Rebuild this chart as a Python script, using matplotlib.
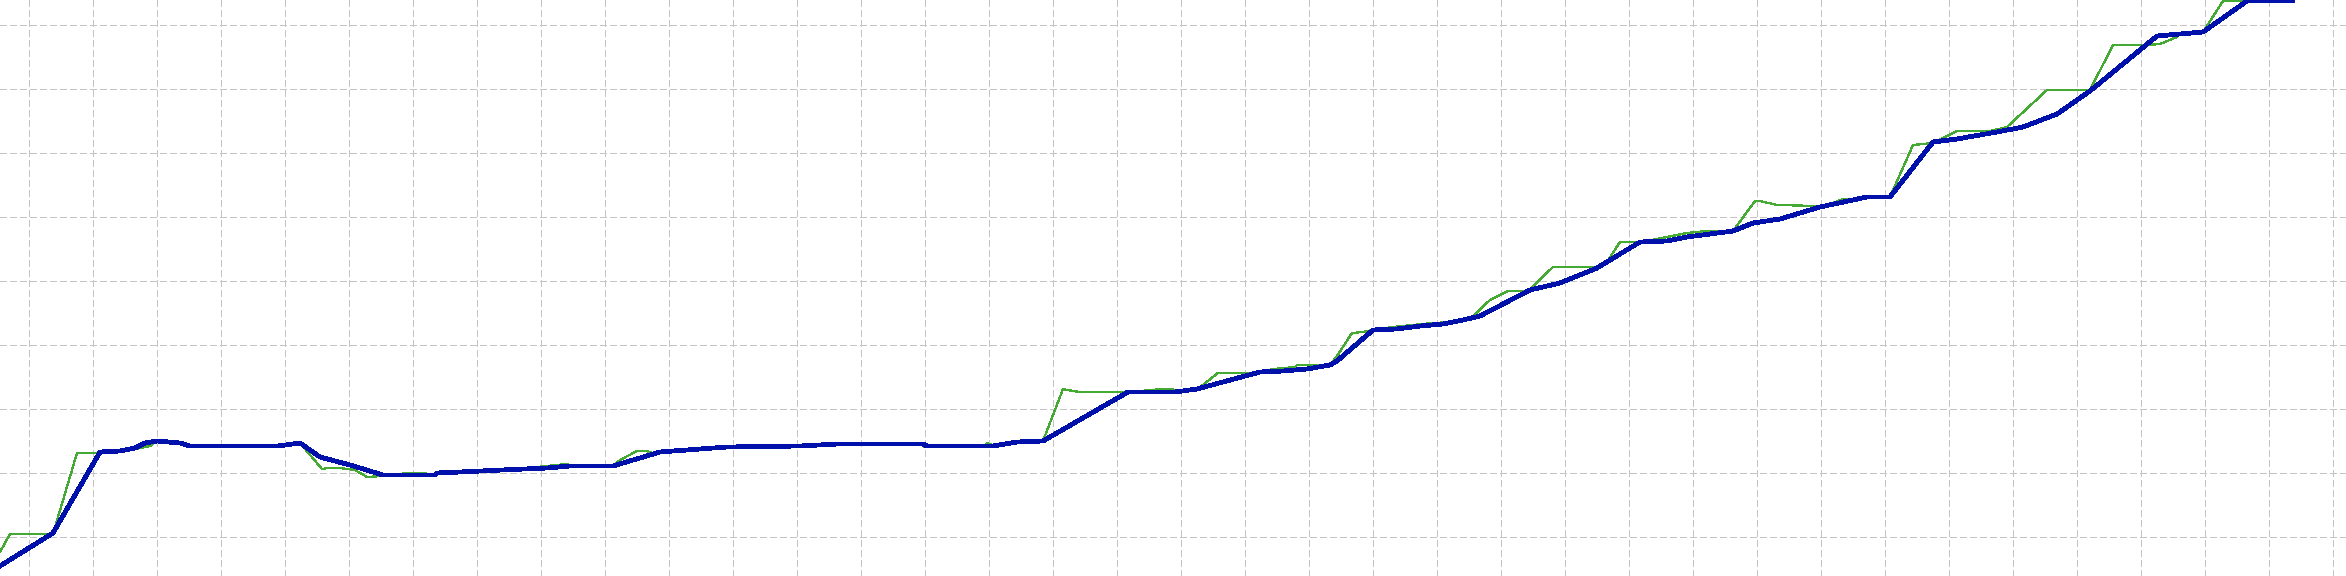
import matplotlib
matplotlib.use('Agg')
from matplotlib import pyplot as plt
from matplotlib.ticker import MultipleLocator

# balance curve (trade number, balance)
balance_x = [0.0, 5.3, 10.0, 12.0, 13.5, 14.5, 15.7, 18.0, 19.0, 27.8, 30.0, 32.0, 35.0, 38.3,
             43.5, 43.7, 46.0, 50.2, 54.7, 57.0, 61.3, 66.0, 72.7, 80.0, 83.8, 92.3, 92.7,
             99.3, 101.7, 104.3, 112.8, 117.5, 119.7, 126.0, 128.3, 130.7, 133.0, 133.7,
             137.3, 139.7, 142.0, 144.3, 146.3, 148.0, 153.0, 156.0, 159.7, 162.0, 164.0,
             166.7, 168.7, 173.3, 175.3, 178.0, 182.0, 186.7, 189.0, 193.3, 195.7, 199.7,
             202.3, 205.7, 209.0, 215.7, 220.3, 224.7, 229.3]
balance_y = [10000, 10330, 11140, 11150, 11180, 11230, 11250, 11230, 11200, 11200, 11230, 11090,
             11010, 10910, 10910, 10930, 10940, 10960, 10980, 11000, 11000, 11140, 11190, 11200,
             11220, 11220, 11200, 11200, 11240, 11250, 11740, 11740, 11770, 11940, 11950, 11970,
             12010, 12050, 12360, 12370, 12400, 12420, 12460, 12500, 12760, 12830, 12980, 13120,
             13240, 13250, 13290, 13350, 13430, 13470, 13590, 13690, 13690, 14240, 14270, 14340,
             14390, 14520, 14750, 15300, 15340, 15650, 15650]

# equity curve
equity_x = [0.0, 1.0, 5.3, 7.7, 10.0, 12.0, 13.5, 15.0, 15.7, 18.0, 19.0, 27.8, 30.0, 32.2, 32.8,
            34.0, 35.5, 36.7, 38.3, 40.8, 42.3, 43.5, 43.7, 46.0, 50.2, 53.7, 56.7, 57.0, 61.3,
            62.0, 63.7, 64.7, 65.2, 66.0, 72.7, 80.0, 83.8, 92.0, 92.5, 92.7, 98.5, 98.7, 99.3,
            101.7, 104.3, 106.3, 106.7, 108.0, 112.8, 116.3, 117.3, 117.5, 119.7, 120.3, 121.8,
            125.7, 126.0, 127.3, 129.5, 129.7, 133.0, 133.7, 135.2, 136.3, 137.3, 139.3, 143.3,
            145.3, 146.3, 147.2, 149.0, 150.0, 150.8, 152.8, 155.3, 159.7, 160.5, 162.0, 164.0,
            166.2, 168.7, 170.7, 173.3, 175.5, 176.0, 177.7, 181.7, 182.0, 183.3, 184.3, 185.7,
            186.7, 189.0, 191.3, 193.3, 195.7, 199.0, 200.7, 204.7, 209.0, 211.3, 214.7, 216.0,
            217.7, 218.0, 220.3, 220.5, 222.3, 224.3, 229.3]
equity_y = [10140, 10320, 10320, 11130, 11130, 11150, 11170, 11200, 11250, 11230, 11200, 11200,
            11230, 10970, 10980, 10980, 10960, 10890, 10900, 10930, 10930, 10910, 10930, 10940,
            10960, 10990, 11020, 11000, 11000, 11060, 11150, 11150, 11130, 11140, 11190, 11200,
            11220, 11220, 11190, 11200, 11200, 11230, 11210, 11240, 11250, 11770, 11760, 11740,
            11740, 11770, 11770, 11740, 11770, 11810, 11930, 11930, 11940, 11970, 11990, 12010,
            12010, 12100, 12330, 12340, 12360, 12390, 12430, 12440, 12460, 12490, 12660, 12710,
            12750, 12750, 12990, 12990, 13010, 13240, 13240, 13280, 13330, 13350, 13350, 13650,
            13650, 13610, 13600, 13590, 13630, 13670, 13670, 13690, 13690, 14210, 14230, 14350,
            14350, 14390, 14760, 14760, 15210, 15210, 15220, 15290, 15320, 15340, 15370, 15650,
            15650, 15650]

plt.rcParams['lines.scale_dashes'] = False

fig = plt.figure(figsize=(23.46, 5.76), dpi=100, frameon=False)
ax = fig.add_axes([0., 0., 1., 1.])
ax.set_facecolor('white')
fig.patch.set_facecolor('white')

ax.plot(equity_x, equity_y, color='#44AA33', linewidth=0.9, antialiased=False, zorder=3)
ax.plot(balance_x, balance_y, color='#0010AA', linewidth=2.7, antialiased=False, zorder=4)

ax.set_xlim(0, 234.6)
ax.set_ylim(9900, 15660)
ax.xaxis.set_major_locator(MultipleLocator(6.4, offset=2.9))
ax.yaxis.set_major_locator(MultipleLocator(640, offset=50))
ax.grid(True, color='#C4C4C4', linewidth=1.0, dashes=(5.0, 2.2), antialiased=False, zorder=1)
ax.set_axisbelow(True)
ax.tick_params(length=0, labelbottom=False, labelleft=False)
for s in ax.spines.values():
    s.set_visible(False)

fig.savefig('out.png', dpi=100, facecolor='white')
